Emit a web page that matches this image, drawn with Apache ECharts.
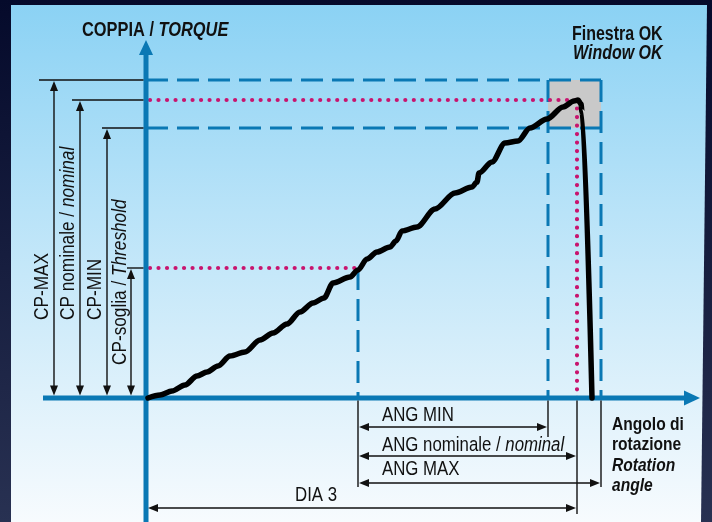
<!DOCTYPE html>
<html><head><meta charset="utf-8">
<script src="https://cdn.jsdelivr.net/npm/echarts@6/dist/echarts.min.js"></script>
<style>html,body{margin:0;padding:0;background:#0b1233}#c{width:712px;height:522px}</style>
</head><body><div id="c"></div>
<script>
// ---------- DATA (units: angle / torque, origin at the axes crossing) ----------
const curveAngle  = [2, 14, 26, 39, 51, 61, 72, 84, 99, 114, 127, 141, 154, 167, 178, 187, 204, 212, 221, 231, 244, 250, 256, 271, 289, 309, 326, 331, 333, 346, 359, 372, 384, 401, 417, 428, 432, 435, 436, 446];
const curveTorque = [0, 3, 7, 13, 22, 26, 32, 42, 46, 58, 65, 74, 86, 95, 100, 115, 121, 128, 139, 146, 151, 157, 167, 171, 189, 205, 211, 216, 225, 236, 255, 257, 270, 279, 291, 297, 298, 294, 286, 0];
const torqueLevelNames = ['CP-MAX', 'CP nominale', 'CP-MIN', 'CP-soglia'];
const torqueLevels = [318, 298, 270, 130];       // max, nominal, min, threshold
const angleLevelNames = ['ANG soglia', 'ANG MIN', 'ANG nominale', 'ANG MAX'];
const angleLevels = [212, 402, 431, 455];         // threshold, min, nominal, max

const [cpMax, cpNom, cpMin, cpThr] = torqueLevels;
const [angThr, angMin, angNom, angMax] = angleLevels;

// ---------- STYLE / LAYOUT ----------
const FONT = "'Liberation Sans', Arial, sans-serif";
const NARROW = 0.82;
const AXIS = '#0a78b4';
const PINK = '#c8146e';
const INK = '#111';
const leftDimX = [54, 80, 107, 131];
const leftExtX = [39, 72, 102, 127];
const bottomDimY = [427, 456, 483];
const bottomExtEnd = [487, 437, 514, 487];
const diaY = 508;

const chart = echarts.init(document.getElementById('c'), null, {renderer: 'canvas'});

function head(tip, dir, len, hw) {
  const bx = tip[0] - dir[0] * len, by = tip[1] - dir[1] * len;
  return {type: 'polygon', shape: {points: [[tip[0], tip[1]], [bx - dir[1] * hw, by + dir[0] * hw], [bx + dir[1] * hw, by - dir[0] * hw]]}, style: {fill: INK}};
}
function seg(x1, y1, x2, y2, color, w) {
  return {type: 'line', shape: {x1, y1, x2, y2}, style: {stroke: color || INK, lineWidth: w || 1.4}};
}

function renderDims(params, api) {
  const o = api.coord([0, 0]);
  const ax = o[0], ay = o[1];
  const ch = [];
  // axes
  ch.push(seg(43, ay, 686, ay, AXIS, 5));
  ch.push(Object.assign(head([700, ay], [1, 0], 16, 7.5), {style: {fill: AXIS}}));
  ch.push(seg(ax, 522, ax, 54, AXIS, 5));
  ch.push(Object.assign(head([ax, 40], [0, -1], 15, 7), {style: {fill: AXIS}}));
  // left torque dimensions
  torqueLevels.forEach((v, i) => {
    const y = api.coord([0, v])[1];
    ch.push(seg(leftExtX[i], y, ax - 2.5, y));
    const top = y + 1, bot = ay - 2.5;
    ch.push(seg(leftDimX[i], top + 8, leftDimX[i], bot - 8));
    ch.push(head([leftDimX[i], top], [0, -1], 10, 4));
    ch.push(head([leftDimX[i], bot], [0, 1], 10, 4));
  });
  // bottom angle extension lines
  angleLevels.forEach((v, i) => {
    const x = api.coord([v, 0])[0];
    ch.push(seg(x, ay + 2.5, x, bottomExtEnd[i]));
  });
  // bottom angle dimensions (from threshold angle)
  const xs = api.coord([angThr, 0])[0];
  [angMin, angNom, angMax].forEach((v, i) => {
    const xe = api.coord([v, 0])[0];
    const y = bottomDimY[i];
    ch.push(seg(xs + 8, y, xe - 8, y));
    ch.push(head([xs + 1, y], [-1, 0], 10, 4));
    ch.push(head([xe - 1, y], [1, 0], 10, 4));
  });
  // DIA 3
  const xn = api.coord([angNom, 0])[0];
  ch.push(seg(ax + 10, diaY, xn - 8, diaY));
  ch.push(head([ax + 2, diaY], [-1, 0], 10, 4));
  ch.push(head([xn - 1, diaY], [1, 0], 10, 4));
  return {type: 'group', children: ch};
}

const dashStyle = {color: AXIS, width: 3, type: [22, 9]};
const dotStyle = {color: PINK, width: 4.2, type: [0.01, 8.5], cap: 'round'};
function lineSeries(points, style, z) {
  return {type: 'line', data: points, symbol: 'none', silent: true, animation: false, z: z, lineStyle: style};
}

const txt = (x, y, text, rich, extra) => Object.assign({type: 'text', x, y, z: 100, scaleX: NARROW, style: {text, rich, fill: INK, align: 'left', verticalAlign: 'middle'}}, extra || {});
const R = (size, weight, style) => ({fontFamily: FONT, fontSize: size, fontWeight: weight || 'normal', fontStyle: style || 'normal', fill: INK, color: INK});

const option = {
  animation: false,
  grid: {left: 0, top: 0, width: 712, height: 522, show: false},
  xAxis: {type: 'value', min: -146, max: 566, show: false},
  yAxis: {type: 'value', min: -124, max: 398, show: false},
  graphic: [
    {type: 'rect', z: -20, shape: {x: 0, y: 0, width: 712, height: 522},
     style: {fill: new echarts.graphic.LinearGradient(0, 0, 0, 1, [{offset: 0, color: '#050a2b'}, {offset: 1, color: '#283152'}])}},
    {type: 'polygon', z: -19, shape: {points: [[11, 5], [707, 5], [701, 522], [11, 522]]},
     style: {fill: new echarts.graphic.LinearGradient(0, 0, 0, 1, [{offset: 0, color: '#8bd2f4'}, {offset: 0.4, color: '#b9e3f8'}, {offset: 0.75, color: '#def1fb'}, {offset: 1, color: '#f7fbfe'}])}},
    txt(82, 30, '{a|COPPIA / }{b|TORQUE}', {a: R(20, 'bold'), b: R(20, 'bold', 'italic')}),
    txt(572, 35, '{a|Finestra OK}', {a: R(19.5, 'bold')}),
    txt(573, 54, '{a|Window OK}', {a: R(19.5, 'bold', 'italic')}),
    txt(612, 425, '{a|Angolo di}', {a: R(19, 'bold')}),
    txt(612, 445, '{a|rotazione}', {a: R(19, 'bold')}),
    txt(612, 466, '{a|Rotation}', {a: R(19, 'bold', 'italic')}),
    txt(612, 486, '{a|angle}', {a: R(19, 'bold', 'italic')}),
    txt(382, 415, '{a|ANG MIN}', {a: R(20.5)}),
    txt(382, 445, '{a|ANG nominale / }{b|nominal}', {a: R(20.5), b: R(20.5, 'normal', 'italic')}),
    txt(382, 469, '{a|ANG MAX}', {a: R(20.5)}),
    txt(295, 495, '{a|DIA 3}', {a: R(20.5)}),
    txt(42, 320, '{a|CP-MAX}', {a: R(21)}, {rotation: Math.PI / 2}),
    txt(68, 320, '{a|CP nominale / }{b|nominal}', {a: R(21), b: R(21, 'normal', 'italic')}, {rotation: Math.PI / 2}),
    txt(95, 320, '{a|CP-MIN}', {a: R(21)}, {rotation: Math.PI / 2}),
    txt(120, 365, '{a|CP-soglia / }{b|Threshold}', {a: R(21), b: R(21, 'normal', 'italic')}, {rotation: Math.PI / 2})
  ],
  series: [
    {type: 'custom', z: 1, silent: true, animation: false,
     renderItem: (p, api) => {
       const a = api.coord([api.value(0), api.value(3)]);
       const b = api.coord([api.value(1), api.value(2)]);
       return {type: 'rect', shape: {x: a[0], y: a[1], width: b[0] - a[0], height: b[1] - a[1]}, style: {fill: '#c9c9c9'}};
     },
     data: [[angMin, angMax, cpMin, cpMax]]},
    lineSeries([[0, cpMax], [angMax, cpMax]], dashStyle, 2),
    lineSeries([[0, cpMin], [angMax, cpMin]], dashStyle, 2),
    lineSeries([[angMin, cpMax], [angMin, 0]], dashStyle, 2),
    lineSeries([[angMax, cpMax], [angMax, 0]], dashStyle, 2),
    lineSeries([[angThr, cpThr], [angThr, 0]], dashStyle, 2),
    lineSeries([[4, cpNom], [angNom, cpNom]], dotStyle, 3),
    lineSeries([[angNom, cpNom], [angNom, 0]], dotStyle, 3),
    lineSeries([[4, cpThr], [angThr, cpThr]], dotStyle, 3),
    {type: 'custom', z: 4, silent: true, animation: false, renderItem: renderDims, data: [[0, 0]]},
    {type: 'line', z: 5, symbol: 'none', silent: true, animation: false, smooth: 0.3, smoothMonotone: 'x',
     data: curveAngle.map((a, i) => [a, curveTorque[i]]),
     lineStyle: {color: '#000', width: 5.5, join: 'round', cap: 'round'}}
  ]
};
chart.setOption(option);
</script>
</body></html>
